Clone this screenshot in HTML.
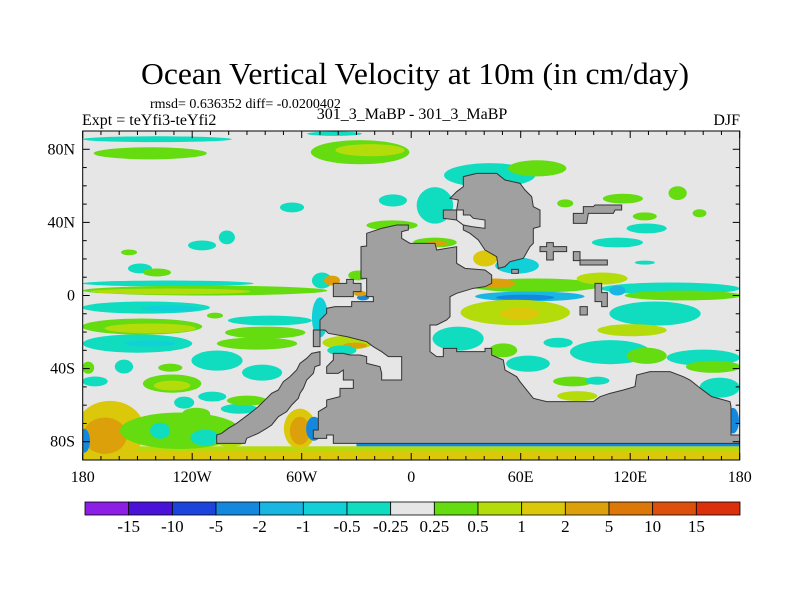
<!DOCTYPE html>
<html><head><meta charset="utf-8"><style>
html,body{margin:0;padding:0;background:#fff;}
svg{display:block;font-family:"Liberation Serif",serif;}
</style></head><body>
<svg id="chart" width="800" height="600" viewBox="0 0 800 600" xmlns="http://www.w3.org/2000/svg">
<text x="141" y="84" font-size="31" textLength="548" lengthAdjust="spacingAndGlyphs">Ocean Vertical Velocity at 10m (in cm/day)</text>
<text x="150" y="108" font-size="14">rmsd= 0.636352 diff= -0.0200402</text>
<text x="82" y="125" font-size="16">Expt = teYfi3-teYfi2</text>
<text x="412" y="119" font-size="16" text-anchor="middle">301_3_MaBP - 301_3_MaBP</text>
<text x="740" y="125" font-size="16" text-anchor="end">DJF</text>
<defs><clipPath id="plotclip"><rect x="82.7" y="131" width="657" height="329"/></clipPath></defs>
<g id="plot" clip-path="url(#plotclip)">
<rect x="82.7" y="131" width="657" height="329" fill="#e6e6e6"/>
<g id="blobs"></g>
<g id="land" transform="translate(200,160) scale(0.33333)" fill="#a0a0a0" stroke="#333" stroke-width="1" vector-effect="non-scaling-stroke">
<polygon vector-effect="non-scaling-stroke" points="483,260 500,258 500,220 545,205 590,195 625,195 625,210 605,215 605,235 630,250 705,250 710,270 770,260 770,310 795,325 855,330 875,345 875,370 855,380 820,385 770,400 750,410 750,470 740,480 710,495 690,495 690,575 710,590 730,590 730,565 770,565 770,575 855,575 855,565 875,565 875,585 910,600 915,630 950,650 960,665 1000,715 1040,725 1180,725 1200,710 1230,700 1270,690 1305,680 1310,645 1350,635 1410,635 1450,650 1470,660 1495,680 1515,695 1535,710 1590,725 1593,740 1593,825 1625,825 1625,850 400,850 400,825 380,825 380,835 340,835 340,810 355,810 355,755 380,740 380,720 420,710 420,685 460,685 460,660 430,660 430,630 415,640 380,640 380,620 400,600 400,580 430,580 450,585 480,585 500,590 500,610 520,615 540,620 545,640 545,660 605,660 605,590 565,590 545,575 520,560 500,545 440,530 385,520 375,510 360,510 360,480 380,460 380,445 405,440 455,440 455,425 520,425 520,410 500,410 500,355 483,355"/>
<polygon vector-effect="non-scaling-stroke" points="50,825 50,850 135,850 140,835 175,820 200,805 215,795 235,770 260,755 275,735 295,715 300,700 310,685 320,660 340,640 345,620 360,615 360,575 335,580 320,595 300,610 290,630 270,650 250,665 235,690 215,700 200,715 175,740 150,760 130,775 110,790 85,805 65,820"/>
<polygon vector-effect="non-scaling-stroke" points="790,50 830,40 890,40 915,60 960,70 975,90 995,110 1000,140 1020,150 1020,200 1000,205 1000,250 990,260 970,295 930,305 915,320 895,325 890,290 855,270 835,240 810,220 790,210 790,195 770,180 730,175 730,150 770,150 775,120 750,115 770,95 790,80"/>
<polygon vector-effect="non-scaling-stroke" fill="#e6e6e6" points="770,150 790,150 790,165 810,165 820,175 855,180 855,205 815,200 790,195 770,180"/>
<polygon vector-effect="non-scaling-stroke" points="400,370 440,370 440,358 460,358 460,370 483,370 483,395 460,395 460,410 440,410 400,410"/>
<rect vector-effect="non-scaling-stroke" x="340" y="510" width="20" height="50"/>
<polygon vector-effect="non-scaling-stroke" points="1020,260 1040,260 1040,248 1060,248 1060,260 1100,260 1100,275 1060,275 1060,300 1040,300 1040,275 1020,275"/>
<polygon vector-effect="non-scaling-stroke" points="1120,160 1150,160 1150,140 1180,140 1185,135 1265,135 1265,150 1245,150 1240,160 1165,160 1160,190 1120,190"/>
<rect vector-effect="non-scaling-stroke" x="1120" y="275" width="20" height="27"/>
<rect vector-effect="non-scaling-stroke" x="1140" y="300" width="82" height="15"/>
<polygon vector-effect="non-scaling-stroke" points="1185,370 1205,370 1205,398 1222,398 1222,440 1205,440 1205,425 1185,425"/>
<rect vector-effect="non-scaling-stroke" x="1140" y="440" width="22" height="25"/>
<rect vector-effect="non-scaling-stroke" x="935" y="328" width="20" height="12"/>
</g>
</g>
<rect x="82.7" y="131" width="657" height="329" fill="none" stroke="#000" stroke-width="1"/>
<g id="axes" font-size="16"></g>
<g id="colorbar" font-size="17"></g>
</svg>
<script>
// field contour blobs (lon, lat centres; half-extents in degrees; value cm/day)
const blobLon=[-139.3,-143,-28,-22.5,-65.3,-10.5,-114.6,-101,-154.6,-148.6,-139.3,-133.3,-113,-132,-145.3,-132,-77.4,-107.5,-147.5,-143,-80,-150,-143,-106.4,-84.5,-157.4,-132,-81.7,-131,-131,-173.3,-177,-165,-167.8,-179.3,-126.6,-113,-137.6,-99.2,-124.4,-117.8,-109,-94.3,-90,-61,-61,-53.2,-50,-48.9,-43.4,-29,-10.5,13,14.2,13,-10,40.5,58,68,46,65,62.4,57,59.7,25.7,50.4,64,80.5,116,146,84.4,128,158,129,113,128,104.6,142,113,149,133.6,121,109,129,160,165.5,88.7,91,169,102,176.3,43,69,-26.4,-28,-34.6,-30.8,-38,-42];
const blobLat=[85.5,77.8,78.4,79.5,48.2,52,27.4,31.8,23.6,14.8,12.6,6.6,2.7,2.2,-6.6,-7.1,-13.7,-11,-17,-18,-20.3,-26.3,-26.3,-35.6,-26.3,-38.9,-39.5,-42.2,-48.2,-49.3,-47,-39.5,-74,-76.7,-79.5,-74,-77.8,-74,-79.5,-58.6,-64.7,-55.3,-62,-57.5,-72.9,-74,-72.9,-12,8.2,8.2,11,38.4,29,28.5,49.3,52,20.3,16.4,5.5,6.6,-0.5,-1.1,-9.3,-9.9,-23.6,-30,-37.3,-25.8,53,56,50.4,43.3,45,36.7,29,18,9.3,3.8,2.7,0,-9.9,-19,-31,-33,-34,-39,-47,-55,-50.4,-46.6,-68.5,65.8,69.6,-1.1,1.1,-25.8,-27.4,-30,88.5];
const blobRLon=[41,31,27,19,6.6,5.5,7.7,4.4,4.4,6.6,7.7,47,67,44,35,16,23,4.4,33,25,22,30,14,14,22,5,6.6,11,16,10,7,3.3,19,12,3.3,33,8,5.5,8,5.5,7.7,7.7,10,11,8.8,5.5,4.4,4.4,5.5,4.4,5.5,14,12,5.5,10,7.7,6.6,12,36,11,30,16,30,11,14,7.7,12,8,11,5,4.4,6.6,3.8,11,14,5.5,14,38,4.4,32,25,19,22,11,20,15,11,11,11,6.6,3.3,25,16,3.3,3.3,14,6.6,8,15];
const blobRLat=[1.6,3.3,6.6,3.3,2.7,2.7,2.7,3.8,1.6,2.7,2.2,1.6,2.7,1.6,3.3,1.6,2.7,1.6,4.4,2.7,3.3,5,1.6,5.5,3.3,3.8,2.2,4.4,5,2.7,2.7,3.3,16.4,10,6.6,10,4.4,4.4,3.3,3.3,3.3,2.7,2.7,2.7,11,7.7,6.6,11,4.4,2.7,2.7,2.7,2.7,1.6,10,3.3,4.4,4.4,3.8,2.7,2.7,1.6,7,3.3,6.6,3.8,4.4,2.7,2.7,3.8,2.2,2.2,2.2,2.7,2.7,1.1,3.3,3.3,2.7,2.7,6.6,3.3,6.6,4.4,4.4,3.3,2.7,2.7,5.5,2.2,7,6.6,4.4,1.6,1.6,3.8,1.6,2.7,1.2];
const blobVal=[-0.35,0.35,0.35,0.7,-0.35,-0.35,-0.35,-0.35,0.35,-0.35,0.35,-0.35,0.35,0.7,-0.35,-0.7,-0.35,0.35,0.35,0.7,0.35,-0.35,-0.7,-0.35,0.35,-0.35,0.35,-0.35,0.35,0.7,-0.35,0.35,1.5,3,-3,0.35,-0.35,-0.35,0.7,-0.35,0.35,-0.35,-0.35,0.35,1.5,3,-3,-0.7,-0.35,3,0.35,0.35,0.35,3,-0.35,-0.35,1.5,-0.7,0.35,3,-1.5,-3,0.7,1.5,-0.35,0.35,-0.35,-0.35,0.35,0.35,0.35,0.35,0.35,-0.35,-0.35,-0.35,0.7,-0.35,-1.5,0.35,-0.35,0.7,-0.35,0.35,-0.35,0.35,0.35,0.7,-0.35,-0.35,-3,-0.35,0.35,-3,3,0.7,3,-0.35,-0.35];
// bottom polar bands: [lonStart, lonEnd, latTop, latBottom, value]
const bandLon0=[-180,-180,-30];
const bandLon1=[180,180,180];
const bandLatTop=[-82.5,-85,-80.8];
const bandLatBot=[-90,-90,-82.5];
const bandVal=[0.7,1.5,-2];
// colour scale
const levels=[-15,-10,-5,-2,-1,-0.5,-0.25,0.25,0.5,1,2,5,10,15];
const levelLabels=["-15","-10","-5","-2","-1","-0.5","-0.25","0.25","0.5","1","2","5","10","15"];
const palette=["#8c1ee6","#4a12d8","#1a44dc","#1488dc","#18b6e0","#12d0d8","#10dcc0","#e6e6e6","#64dc10","#b4dc0a","#dcc80a","#dca00a","#dc780a","#dc500c","#dc300c"];
const lonTicks=[-180,-120,-60,0,60,120,180];
const lonTickLabels=["180","120W","60W","0","60E","120E","180"];
const latTicks=[80,40,0,-40,-80];
const latTickLabels=["80N","40N","0","40S","80S"];

const NS="http://www.w3.org/2000/svg";
const X0=82.7,X1=739.7,Y0=131,Y1=460;
function xOf(lon){return X0+(lon+180)/360*(X1-X0);}
function yOf(lat){return Y0+(90-lat)/180*(Y1-Y0);}
const pxPerDeg=(X1-X0)/360;
function colorOf(v){let i=0;while(i<levels.length&&v>levels[i])i++;return palette[i];}
function mk(tag,attrs,parent){const e=document.createElementNS(NS,tag);for(const k in attrs)e.setAttribute(k,attrs[k]);parent.appendChild(e);return e;}

const gb=document.getElementById('blobs');
for(let i=0;i<bandVal.length;i++){
  const r=mk('rect',{x:xOf(bandLon0[i]),y:yOf(bandLatTop[i]),width:xOf(bandLon1[i])-xOf(bandLon0[i]),height:yOf(bandLatBot[i])-yOf(bandLatTop[i]),fill:colorOf(bandVal[i])},gb);
  
  
}
for(let i=0;i<blobVal.length;i++){
  const e=mk('ellipse',{cx:xOf(blobLon[i]),cy:yOf(blobLat[i]),rx:blobRLon[i]*pxPerDeg,ry:blobRLat[i]*pxPerDeg,fill:colorOf(blobVal[i])},gb);
  
  
}

const ga=document.getElementById('axes');
for(let lon=-180;lon<=180;lon+=10){
  const x=xOf(lon),L=(lon%60===0)?7:4;
  const t1=mk('line',{x1:x,y1:Y1,x2:x,y2:Y1-L,stroke:'#000','stroke-width':1},ga);
  
  
  const t2=mk('line',{x1:x,y1:Y0,x2:x,y2:Y0+L,stroke:'#000','stroke-width':1},ga);
  
  
}
for(let lat=-90;lat<=90;lat+=10){
  const y=yOf(lat),L=(lat%40===0)?7:4;
  const t1=mk('line',{x1:X0,y1:y,x2:X0+L,y2:y,stroke:'#000','stroke-width':1},ga);
  
  
  const t2=mk('line',{x1:X1,y1:y,x2:X1-L,y2:y,stroke:'#000','stroke-width':1},ga);
  
  
}
lonTicks.forEach((lon,i)=>{
  const t=mk('text',{x:xOf(lon),y:482,'text-anchor':'middle'},ga);t.textContent=lonTickLabels[i];
  
  
});
latTicks.forEach((lat,i)=>{
  const t=mk('text',{x:75,y:yOf(lat)+5,'text-anchor':'end'},ga);t.textContent=latTickLabels[i];
  
  
});

const gc=document.getElementById('colorbar');
const CB0=85,CB1=740,CBY=502,CBH=13,bw=(CB1-CB0)/palette.length;
palette.forEach((c,i)=>{
  const r=mk('rect',{x:CB0+i*bw,y:CBY,width:bw,height:CBH,fill:c,stroke:'#000','stroke-width':0.8},gc);
  
  
});
levelLabels.forEach((s,i)=>{
  const t=mk('text',{x:CB0+(i+1)*bw,y:532,'text-anchor':'middle'},gc);t.textContent=s;
  
  
});
</script>
</body></html>
